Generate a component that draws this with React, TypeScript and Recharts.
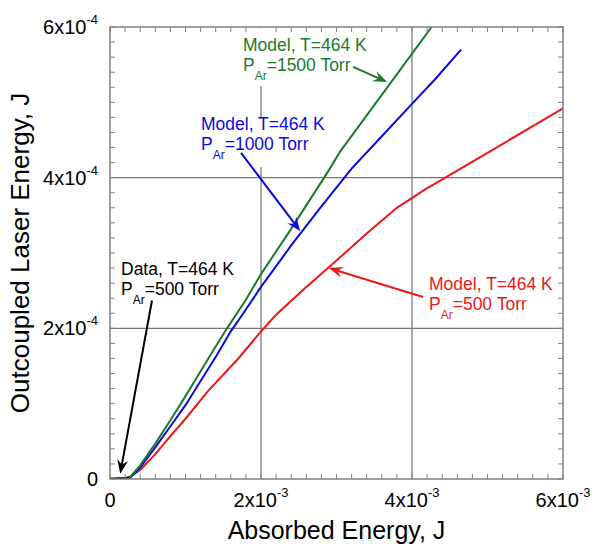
import React from 'react';
import { LineChart, Line, XAxis, YAxis, ReferenceLine } from 'recharts';

// absorbed energy (J) vs outcoupled laser energy (J)
const redX = [0.17e-3, 0.25e-3, 0.4e-3, 0.6e-3, 0.8e-3, 1.0e-3, 1.3e-3, 1.7e-3, 2.0e-3, 2.2e-3, 2.6e-3, 3.0e-3, 3.4e-3, 3.8e-3, 4.17e-3, 5.0e-3, 6.0e-3];
const redY = [0, 0.02e-4, 0.12e-4, 0.33e-4, 0.57e-4, 0.8e-4, 1.17e-4, 1.6e-4, 1.96e-4, 2.18e-4, 2.55e-4, 2.9e-4, 3.26e-4, 3.6e-4, 3.84e-4, 4.33e-4, 4.92e-4];

const blueX = [0.2e-3, 0.27e-3, 0.4e-3, 0.6e-3, 0.8e-3, 1.0e-3, 1.2e-3, 1.4e-3, 1.6e-3, 1.8e-3, 2.0e-3, 2.4e-3, 2.8e-3, 3.2e-3, 3.6e-3, 4.0e-3, 4.3e-3, 4.65e-3];
const blueY = [0, 0.02e-4, 0.15e-4, 0.42e-4, 0.7e-4, 0.98e-4, 1.3e-4, 1.62e-4, 1.96e-4, 2.25e-4, 2.55e-4, 3.1e-4, 3.62e-4, 4.12e-4, 4.55e-4, 4.98e-4, 5.3e-4, 5.7e-4];

const greenX = [0.2e-3, 0.27e-3, 0.4e-3, 0.6e-3, 0.8e-3, 1.0e-3, 1.2e-3, 1.4e-3, 1.55e-3, 1.8e-3, 2.0e-3, 2.4e-3, 2.9e-3, 3.05e-3, 3.6e-3, 4.26e-3];
const greenY = [0, 0.03e-4, 0.18e-4, 0.47e-4, 0.78e-4, 1.1e-4, 1.43e-4, 1.76e-4, 2.0e-4, 2.38e-4, 2.72e-4, 3.32e-4, 4.1e-4, 4.35e-4, 5.1e-4, 6.0e-4];

const dataX = [0.0, 0.05e-3, 0.1e-3, 0.15e-3, 0.2e-3, 0.25e-3];
const dataY = [0, 0, 0.002e-4, 0.004e-4, 0.008e-4, 0.015e-4];

// axis ticks
const xMajorTicks = [0, 0.002, 0.004, 0.006];
const xTickLabels: [string, string][] = [['0', ''], ['2x10', '-3'], ['4x10', '-3'], ['6x10', '-3']];
const yMajorTicks = [0, 0.0002, 0.0004, 0.0006];
const yTickLabels: [string, string][] = [['0', ''], ['2x10', '-4'], ['4x10', '-4'], ['6x10', '-4']];
const xMinorTicks = Array.from({ length: 31 }, (_, i) => +(i * 0.0002).toFixed(4));
const yMinorTicks = Array.from({ length: 31 }, (_, i) => +(i * 0.00002).toFixed(5));

// annotation arrows: [tail, tip]
const dataArrow = [{ x: 0.556e-3, y: 2.37e-4 }, { x: 0.135e-3, y: 0.07e-4 }];
const blueArrow = [{ x: 1.735e-3, y: 4.33e-4 }, { x: 2.52e-3, y: 3.29e-4 }];
const greenArrow = [{ x: 3.22e-3, y: 5.47e-4 }, { x: 3.67e-3, y: 5.27e-4 }];
const redArrow = [{ x: 4.146e-3, y: 2.416e-4 }, { x: 2.9e-3, y: 2.8e-4 }];

const toRows = (xs: number[], ys: number[]) => xs.map((x, i) => ({ x, y: ys[i] }));

const RED = '#EE1616';
const BLUE = '#0A0AE0';
const GREEN = '#1A7A2C';
const FONT = '"Liberation Sans", Arial, sans-serif';
const PLOT = { left: 110, right: 563, top: 27, bottom: 479 };
const AXIS = '#808080';

const findLabel = (v: number, majors: number[], labels: [string, string][]) => {
  const i = majors.findIndex((m) => Math.abs(m - v) < 1e-9);
  return i >= 0 ? labels[i] : null;
};

const XTick = (props: any) => {
  const { x, payload } = props;
  const lbl = findLabel(payload.value, xMajorTicks, xTickLabels);
  return (
    <g>
      <line x1={x} x2={x} y1={PLOT.bottom} y2={PLOT.bottom - 5} stroke={AXIS} strokeWidth={1} />
      <line x1={x} x2={x} y1={PLOT.top} y2={PLOT.top + 5} stroke={AXIS} strokeWidth={1} />
      {lbl && (
        <text x={x} y={507} textAnchor="middle" fontSize={20} fontFamily={FONT} fill="#000">
          <tspan>{lbl[0]}</tspan>
          {lbl[1] && <tspan dy={-10} fontSize={13}>{lbl[1]}</tspan>}
        </text>
      )}
    </g>
  );
};

const YTick = (props: any) => {
  const { y, payload } = props;
  const lbl = findLabel(payload.value, yMajorTicks, yTickLabels);
  return (
    <g>
      <line x1={PLOT.left} x2={PLOT.left + 5} y1={y} y2={y} stroke={AXIS} strokeWidth={1} />
      <line x1={PLOT.right} x2={PLOT.right - 5} y1={y} y2={y} stroke={AXIS} strokeWidth={1} />
      {lbl && (
        <text x={98} y={y + 7} textAnchor="end" fontSize={20} fontFamily={FONT} fill="#000">
          <tspan>{lbl[0]}</tspan>
          {lbl[1] && <tspan dy={-10} fontSize={13}>{lbl[1]}</tspan>}
        </text>
      )}
    </g>
  );
};

const arrowShape = (color: string, width: number) => (p: any) => {
  const { x1, y1, x2, y2 } = p;
  const dx = x2 - x1;
  const dy = y2 - y1;
  const len = Math.hypot(dx, dy) || 1;
  const ux = dx / len;
  const uy = dy / len;
  const L = 14, W = 5.5, N = 9;
  const bx = x2 - ux * L, by = y2 - uy * L;
  const nx = x2 - ux * N, ny = y2 - uy * N;
  const pts = `${x2},${y2} ${bx - uy * W},${by + ux * W} ${nx},${ny} ${bx + uy * W},${by - ux * W}`;
  return (
    <g>
      <line x1={x1} y1={y1} x2={nx} y2={ny} stroke={color} strokeWidth={width} />
      <polygon points={pts} fill={color} />
    </g>
  );
};

const Label = ({ x, y, color, model, torr }: { x: number; y: number; color: string; model: string; torr: string }) => (
  <text x={x} y={y} fontSize={17.5} fontFamily={FONT} fill={color}>
    <tspan x={x} y={y}>{model}</tspan>
    <tspan x={x} y={y + 20}>P</tspan>
    <tspan dy={8.5} fontSize={12}>Ar</tspan>
    <tspan dy={-8.5}>{torr}</tspan>
  </text>
);

export default function App() {
  return (
    <div style={{ position: 'absolute', left: 0, top: 0, width: 592, height: 544, background: '#fff' }}>
      <LineChart width={592} height={544} margin={{ top: 27, right: 29, bottom: 25, left: 50 }}>
        <XAxis
          type="number"
          dataKey="x"
          domain={[0, 0.006]}
          ticks={xMinorTicks}
          interval={0}
          tick={(p: any) => <XTick {...p} />}
          tickLine={false}
          axisLine={false}
          height={40}
          allowDataOverflow
        />
        <YAxis
          type="number"
          dataKey="y"
          domain={[0, 0.0006]}
          ticks={yMinorTicks}
          interval={0}
          tick={(p: any) => <YTick {...p} />}
          tickLine={false}
          axisLine={false}
          width={60}
          allowDataOverflow
        />
        <ReferenceLine x={0.002} stroke="#555" strokeWidth={1} />
        <ReferenceLine x={0.004} stroke="#555" strokeWidth={1} />
        <ReferenceLine y={0.0002} stroke="#777" strokeWidth={1.3} />
        <ReferenceLine y={0.0004} stroke="#777" strokeWidth={1.3} />
        <Line data={toRows(redX, redY)} dataKey="y" stroke={RED} strokeWidth={2} dot={false} isAnimationActive={false} />
        <Line data={toRows(blueX, blueY)} dataKey="y" stroke={BLUE} strokeWidth={2} dot={false} isAnimationActive={false} />
        <Line data={toRows(greenX, greenY)} dataKey="y" stroke={GREEN} strokeWidth={2} dot={false} isAnimationActive={false} />
        <Line data={toRows(dataX, dataY)} dataKey="y" stroke="#000" strokeWidth={3} dot={false} isAnimationActive={false} />
        <ReferenceLine segment={dataArrow} shape={arrowShape('#000', 2)} />
        <ReferenceLine segment={blueArrow} shape={arrowShape(BLUE, 2)} />
        <ReferenceLine segment={greenArrow} shape={arrowShape(GREEN, 2)} />
        <ReferenceLine segment={redArrow} shape={arrowShape(RED, 2)} />
      </LineChart>
      <svg width={592} height={544} style={{ position: 'absolute', left: 0, top: 0, pointerEvents: 'none' }}>
        <rect x={PLOT.left} y={PLOT.top} width={PLOT.right - PLOT.left} height={PLOT.bottom - PLOT.top} fill="none" stroke={AXIS} strokeWidth={1.5} />
        <rect x={256} y={PLOT.top + 1} width={12} height={58} fill="#fff" />
        <rect x={256} y={117} width={12} height={50} fill="#fff" />
        <Label x={243} y={51} color={GREEN} model="Model, T=464 K" torr="=1500 Torr" />
        <Label x={201} y={130} color={BLUE} model="Model, T=464 K" torr="=1000 Torr" />
        <Label x={429} y={290} color={RED} model="Model, T=464 K" torr="=500 Torr" />
        <Label x={121} y={275} color="#000" model="Data, T=464 K" torr="=500 Torr" />
        <text x={336.5} y={539} textAnchor="middle" fontSize={25} fontFamily={FONT} fill="#000">Absorbed Energy, J</text>
        <text x={0} y={0} transform="translate(29,253) rotate(-90)" textAnchor="middle" fontSize={26} fontFamily={FONT} fill="#000">Outcoupled Laser Energy, J</text>
      </svg>
    </div>
  );
}
